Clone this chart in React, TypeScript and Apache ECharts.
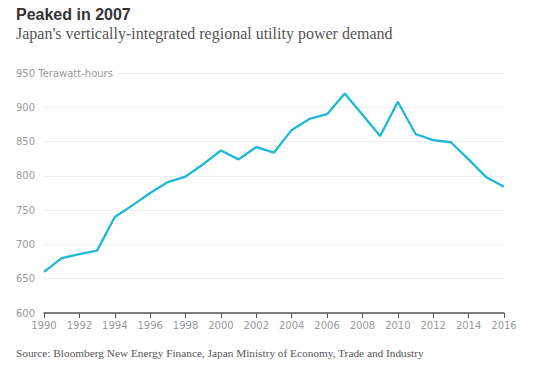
import React, { useEffect, useRef } from "react";
import * as echarts from "echarts";

const years = [1990, 1991, 1992, 1993, 1994, 1995, 1996, 1997, 1998, 1999, 2000, 2001, 2002, 2003, 2004, 2005, 2006, 2007, 2008, 2009, 2010, 2011, 2012, 2013, 2014, 2015, 2016];
const demand = [660, 680, 686, 691, 740, 757, 775, 791, 799, 817, 837, 824, 842, 834, 867, 883, 890, 920, 889, 858, 908, 861, 852, 849, 824, 798, 784];
const titleText = "Peaked in 2007";
const subtitleText = "Japan's vertically-integrated regional utility power demand";
const sourceText = "Source: Bloomberg New Energy Finance, Japan Ministry of Economy, Trade and Industry";
const unitLabel = "Terawatt-hours";

export default function App() {
  const ref = useRef<HTMLDivElement>(null);
  useEffect(() => {
    if (!ref.current) return;
    const chart = echarts.init(ref.current, null, { renderer: "svg" });
    chart.setOption({
      animation: false,
      backgroundColor: "#fff",
      grid: { left: 44, right: 35, top: 73, bottom: 58 },
      graphic: [
        { type: "text", left: 16, top: 6, style: { text: titleText, font: "bold 16px 'Liberation Sans', Arial, sans-serif", fill: "#333" } },
        { type: "text", left: 16, top: 25, style: { text: subtitleText, font: "16px 'Liberation Serif', 'Times New Roman', serif", fill: "#555" } },
        { type: "text", left: 16, top: 347, style: { text: sourceText, font: "11.3px 'Liberation Serif', 'Times New Roman', serif", fill: "#555" } },
      ],
      xAxis: {
        type: "value",
        min: 1990,
        max: 2016,
        interval: 2,
        axisLine: { show: true, lineStyle: { color: "#555", width: 1.5 } },
        axisTick: { show: true, length: 5, lineStyle: { color: "#555" } },
        axisLabel: { color: "#999", fontSize: 10, margin: 7, fontFamily: "'DejaVu Sans', sans-serif", formatter: (v: number) => String(v) },
        splitLine: { show: false },
      },
      yAxis: {
        type: "value",
        min: 600,
        max: 950,
        interval: 50,
        axisLine: { show: false },
        axisTick: { show: false },
        axisLabel: {
          color: "#999",
          fontSize: 10,
          align: "left",
          margin: 28,
          fontFamily: "'DejaVu Sans', sans-serif",
          backgroundColor: "#fff",
          padding: [0, 4, 0, 0],
          formatter: (v: number) => (v === 950 ? v + " " + unitLabel : String(v)),
        },
        splitLine: { show: true, lineStyle: { color: "#eeeeee", width: 1 } },
      },
      series: [
        {
          type: "line",
          data: years.map((y, i) => [y, demand[i]]),
          symbol: "none",
          lineStyle: { color: "#1db8d3", width: 2.3 },
        },
      ],
    });
    return () => chart.dispose();
  }, []);
  return <div ref={ref} style={{ width: 539, height: 371, position: "absolute", left: 0, top: 0 }} />;
}
